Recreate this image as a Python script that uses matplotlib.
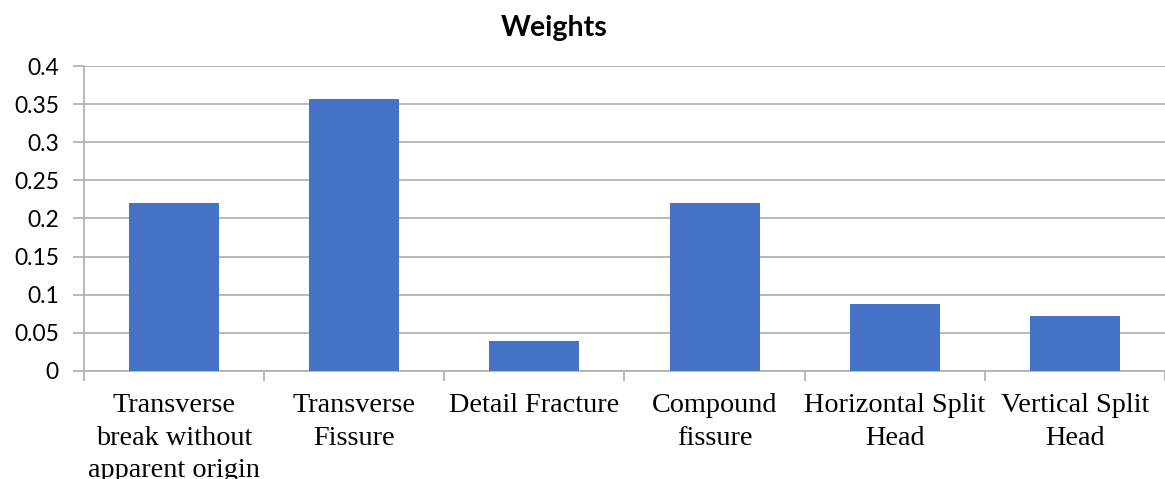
import numpy as np
import matplotlib.pyplot as plt

# failure types and their weights
categories = ["Transverse\nbreak without\napparent origin", "Transverse\nFissure",
              "Detail Fracture", "Compound\nfissure", "Horizontal Split\nHead",
              "Vertical Split\nHead"]
weights = [0.22, 0.357, 0.039, 0.22, 0.088, 0.072]
y_ticks = [0, 0.05, 0.1, 0.15, 0.2, 0.25, 0.3, 0.35, 0.4]
y_labels = ["0", "0.05", "0.1", "0.15", "0.2", "0.25", "0.3", "0.35", "0.4"]

fig = plt.figure(figsize=(11.65, 4.79), dpi=100)
ax = fig.add_axes([0.0721, 0.2255, 0.9279, 0.6367])

x = np.arange(len(categories))
ax.bar(x, weights, width=0.5, color='#4472C4', zorder=3)

ax.set_xlim(-0.5, len(categories) - 0.5)
ax.set_ylim(0, 0.4)
ax.set_yticks(y_ticks)
ax.set_yticklabels(y_labels, fontfamily='Lato', fontsize=16.5)
ax.grid(axis='y', color='#B3B3B3', linewidth=1.3, zorder=0)

# category labels at centers, tick marks at the boundaries
ax.set_xticks(x)
ax.set_xticklabels(categories, fontfamily='Liberation Serif', fontsize=20.3, linespacing=1.4)
ax.tick_params(axis='x', which='major', length=0, pad=16)
ax.set_xticks(np.arange(-0.5, len(categories), 1), minor=True)
ax.tick_params(axis='x', which='minor', length=7, color='#B3B3B3', width=1.3)
ax.tick_params(axis='y', length=8, color='#B3B3B3', width=1.3, pad=10)

for side in ['top', 'right']:
    ax.spines[side].set_visible(False)
for side in ['left', 'bottom']:
    ax.spines[side].set_color('#B3B3B3')
    ax.spines[side].set_linewidth(1.3)

fig.text(0.4755, 0.9415, "Weights", ha='center', va='center',
         fontfamily='Lato', fontweight='bold', fontsize=20.5)

fig.savefig("out.png", dpi=100)
